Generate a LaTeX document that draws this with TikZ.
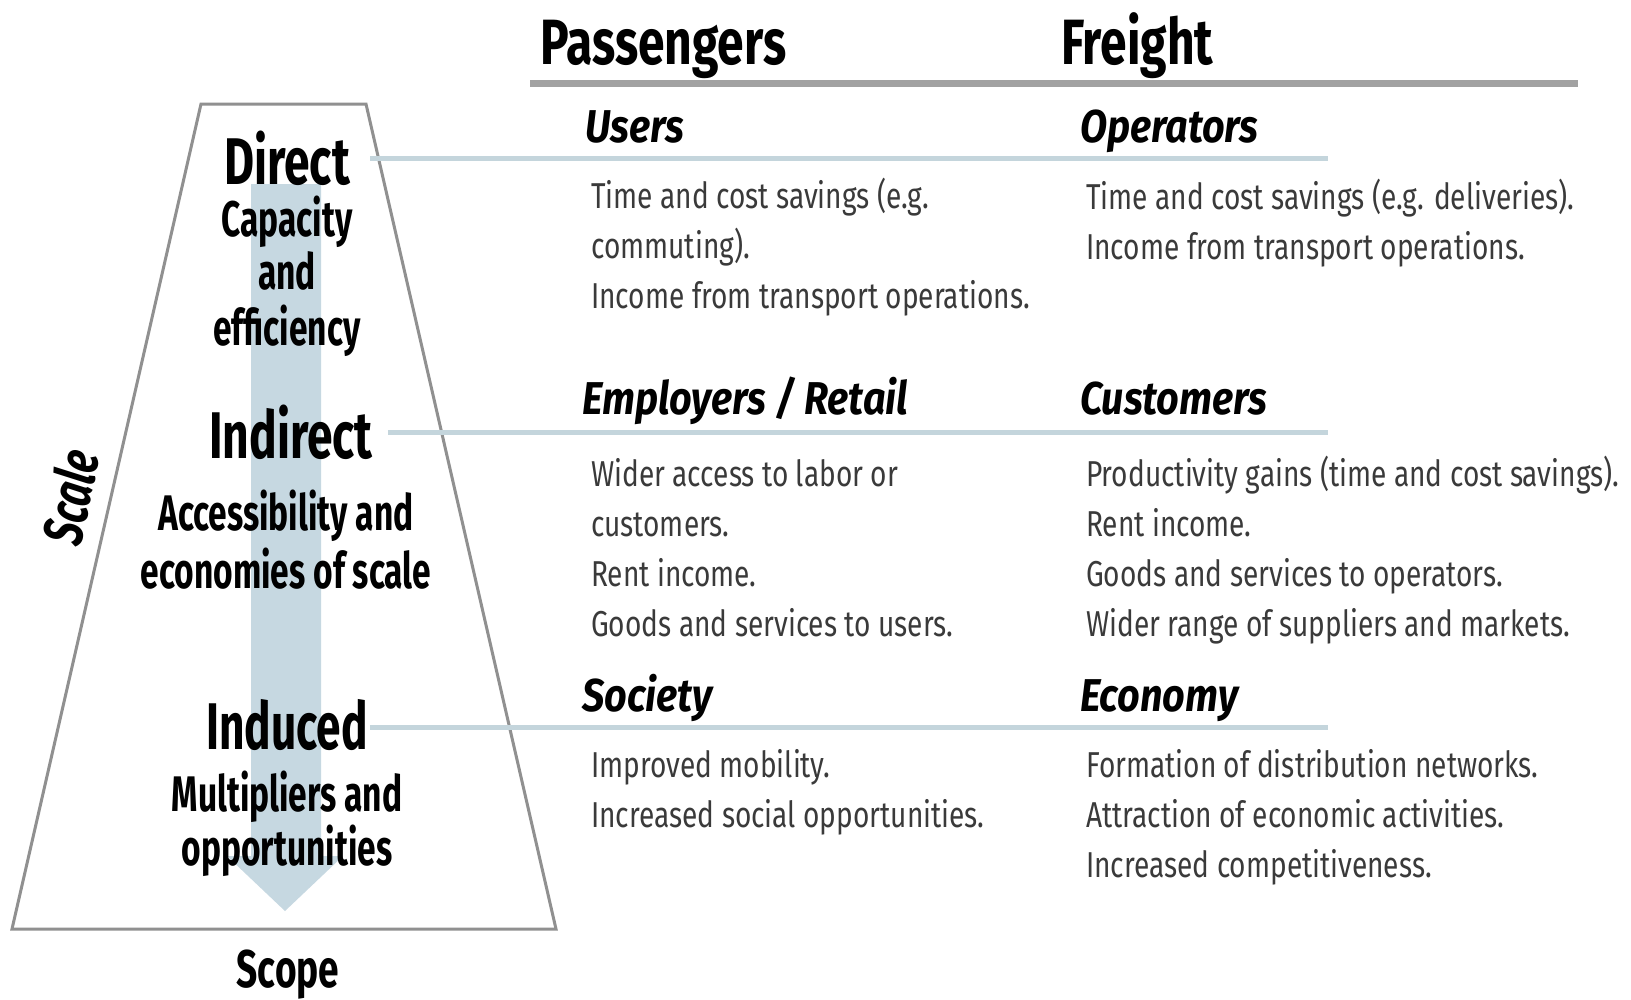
\documentclass[tikz,border=0pt]{standalone}
\usepackage{fontspec}
\setmainfont{Fira Sans}[FakeStretch=0.7]
\newfontfamily\bodyf{Fira Sans}[FakeStretch=0.78]
\newfontfamily\grpf{Fira Sans}[FakeStretch=0.86]
\newfontfamily\colf{Fira Sans}[FakeStretch=0.75]
\newfontfamily\subf{Fira Sans}[FakeStretch=0.67]
\definecolor{bluel}{HTML}{C4D5DC}
\definecolor{arrowc}{HTML}{C6D8E1}
\definecolor{grayl}{HTML}{A2A2A2}
\definecolor{trap}{HTML}{909090}
\definecolor{bodyc}{HTML}{3A3A3A}
\tikzset{
  colhead/.style={font=\colf\fontsize{64}{68}\selectfont\bfseries, text=black, inner sep=0, anchor=base west},
  grouphead/.style={font=\grpf\fontsize{46}{50}\selectfont\bfseries\itshape, text=black, inner sep=0, anchor=base west},
  bodytext/.style={font=\bodyf\fontsize{36}{40}\selectfont, text=bodyc, inner sep=0, anchor=base west},
  level/.style={font=\fontsize{66}{70}\selectfont\bfseries, text=black, inner sep=0, anchor=base},
  levelsub/.style={font=\subf\fontsize{50}{54}\selectfont\bfseries, text=black, inner sep=0, anchor=base},
  blueline/.style={draw=bluel, line width=5pt},
}
\begin{document}
\begin{tikzpicture}[x=1pt,y=-1pt]
\useasboundingbox (0,0) rectangle (1631,999);
\fill[white] (0,0) rectangle (1631,999);
% trapezoid
\draw[trap, line width=3pt, line join=miter] (201,104) -- (366,104) -- (556,929) -- (12,929) -- cycle;
% arrow
\fill[arrowc] (251,184) -- (321,184) -- (321,856) -- (343,856) -- (285,911) -- (227,856) -- (251,856) -- cycle;
% column headings
\node[colhead] (pass) at (540,64) {Passengers};
\node[colhead] (frei) at (1061,64) {Freight};
\coordinate (gl) at (530,83);
\coordinate (gr) at (1578,83);
\draw[grayl, line width=7pt] (gl) -- (gr);
% left levels
\node[level] (direct) at (287,184) {Direct};
\node[levelsub] (cap1) at (287,236) {Capacity};
\node[levelsub] (cap2) at (287,289) {and};
\node[levelsub] (cap3) at (287,345) {efficiency};
\node[level] (indirect) at (291,458) {Indirect};
\node[levelsub] (acc1) at (286,530) {Accessibility and};
\node[levelsub] (acc2) at (286,588) {economies of scale};
\node[level, font=\subf\fontsize{66}{70}\selectfont\bfseries] (induced) at (287,749) {Induced};
\node[levelsub] (mul1) at (287,811) {Multipliers and};
\node[levelsub] (mul2) at (287,865) {opportunities};
\node[levelsub, font=\fontsize{53}{58}\selectfont\bfseries] (scope) at (288,987) {Scope};
\node[font=\fontsize{56}{60}\selectfont\bfseries\itshape, inner sep=0, rotate=78] (scale) at (70,497) {Scale};
% connector lines
\coordinate (d2) at (1328,158);
\coordinate (i2) at (1328,432);
\coordinate (n2) at (1328,727);
\draw[blueline] (direct.east |- d2) ++(20,0) -- (d2);
\draw[blueline] (indirect.east |- i2) ++(15,0) -- (i2);
\draw[blueline] (induced.east |- n2) ++(2,0) -- (n2);
% direct
\node[grouphead] (users) at (585,142) {Users};
\node[grouphead] (oper) at (1080,142) {Operators};
\node[bodytext] (u1) at (591,208) {Time and cost savings (e.g.};
\node[bodytext] (u2) at (591,258) {commuting).};
\node[bodytext] (u3) at (591,308) {Income from transport operations.};
\node[bodytext] (o1) at (1086,209) {Time and cost savings (e.g. deliveries).};
\node[bodytext] (o2) at (1086,259) {Income from transport operations.};
% indirect
\node[grouphead] (empl) at (582,414) {Employers / Retail};
\node[grouphead] (cust) at (1080,414) {Customers};
\node[bodytext] (e1) at (591,486) {Wider access to labor or};
\node[bodytext] (e2) at (591,536) {customers.};
\node[bodytext] (e3) at (591,586) {Rent income.};
\node[bodytext] (e4) at (591,636) {Goods and services to users.};
\node[bodytext] (c1) at (1086,486) {Productivity gains (time and cost savings).};
\node[bodytext] (c2) at (1086,536) {Rent income.};
\node[bodytext] (c3) at (1086,586) {Goods and services to operators.};
\node[bodytext] (c4) at (1086,636) {Wider range of suppliers and markets.};
% induced
\node[grouphead] (soc) at (582,711) {Society};
\node[grouphead] (eco) at (1080,711) {Economy};
\node[bodytext] (s1) at (591,777) {Improved mobility.};
\node[bodytext] (s2) at (591,827) {Increased social opportunities.};
\node[bodytext] (x1) at (1086,777) {Formation of distribution networks.};
\node[bodytext] (x2) at (1086,827) {Attraction of economic activities.};
\node[bodytext] (x3) at (1086,877) {Increased competitiveness.};
\end{tikzpicture}
\end{document}
